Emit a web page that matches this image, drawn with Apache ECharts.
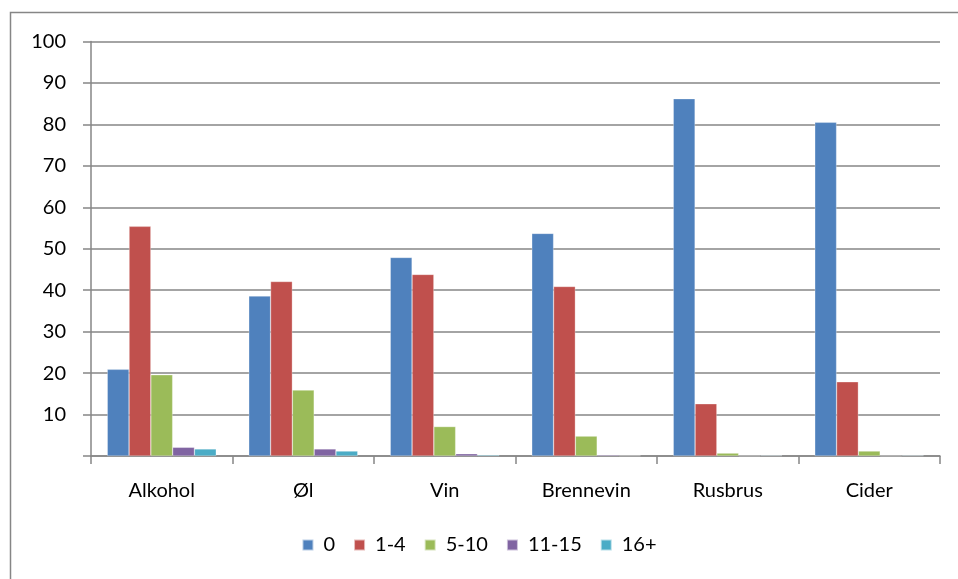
<!DOCTYPE html>
<html>
<head>
    <meta charset="utf-8">
    <title>Drikkefrekvens</title>
    <script src="https://cdn.jsdelivr.net/npm/echarts@6/dist/echarts.min.js"></script>
    <style>
        html, body { margin: 0; padding: 0; background: #fff; }
        #chart-container { width: 958px; height: 579px; }
    </style>
</head>
<body>
<div id="chart-container"></div>
<script>
    const chartDom = document.getElementById('chart-container');
    const myChart = echarts.init(chartDom);

    // kategorier og serier lest av bildet
    const categories = ['Alkohol', 'Øl', 'Vin', 'Brennevin', 'Rusbrus', 'Cider'];
    const seriesNames = ['0', '1-4', '5-10', '11-15', '16+'];
    const s0 = [20.9, 38.6, 47.9, 53.7, 86.2, 80.5];
    const s1_4 = [55.4, 42.1, 43.8, 40.9, 12.6, 17.9];
    const s5_10 = [19.6, 15.9, 7.1, 4.8, 0.7, 1.2];
    const s11_15 = [2.1, 1.7, 0.55, 0.25, 0.05, 0.05];
    const s16 = [1.7, 1.2, 0.25, 0.1, 0.15, 0.15];
    const seriesData = [s0, s1_4, s5_10, s11_15, s16];
    const colors = ['#4f81bd', '#c0504d', '#9bbb59', '#8064a2', '#4bacc6'];

    const gridColor = '#868686';
    const font = 'Lato, "Liberation Sans", sans-serif';

    const option = {
        animation: false,
        backgroundColor: '#fff',
        color: colors,
        graphic: [{
            type: 'rect',
            silent: true,
            shape: { x: 10.5, y: 12.5, width: 1000, height: 700 },
            style: { fill: 'none', stroke: gridColor, lineWidth: 1.5 }
        }],
        legend: {
            data: seriesNames,
            bottom: 19,
            left: 'center',
            itemWidth: 11,
            itemHeight: 11,
            itemGap: 18,
            icon: 'rect',
            textStyle: { fontFamily: font, fontSize: 20, color: '#000', padding: [0, 0, 0, 5] }
        },
        grid: {
            left: 91,
            right: 18,
            top: 41.5,
            bottom: 123
        },
        xAxis: {
            type: 'category',
            data: categories,
            axisLine: { lineStyle: { color: gridColor, width: 1.5 } },
            axisTick: { show: true, length: 8, lineStyle: { color: gridColor, width: 1.5 } },
            axisLabel: { fontFamily: font, fontSize: 20, color: '#000', margin: 25 }
        },
        yAxis: {
            type: 'value',
            min: 0,
            max: 100,
            interval: 10,
            axisLine: { show: true, lineStyle: { color: gridColor, width: 1.5 } },
            axisTick: { show: true, length: 8, lineStyle: { color: gridColor, width: 1.5 } },
            splitLine: { lineStyle: { color: gridColor, width: 1.5 } },
            axisLabel: {
                fontFamily: font, fontSize: 20, color: '#000', margin: 25,
                formatter: v => v === 0 ? '' : String(v)
            }
        },
        series: seriesNames.map((name, i) => ({
            name: name,
            type: 'bar',
            data: seriesData[i],
            barGap: '0%',
            barCategoryGap: '23%',
            itemStyle: { borderColor: 'rgba(255,255,255,0.6)', borderWidth: 0.5 }
        }))
    };

    myChart.setOption(option);

    window.addEventListener('resize', function() {
        myChart.resize();
    });
</script>
</body>
</html>
